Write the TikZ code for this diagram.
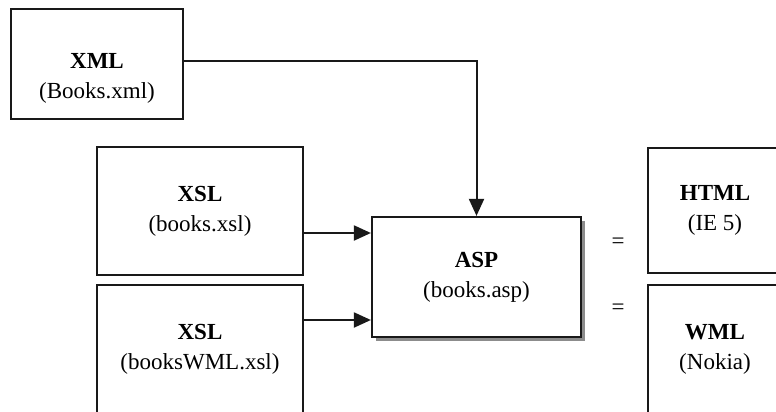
\documentclass[tikz,border=0pt]{standalone}
\usepackage{fontspec}
\setmainfont{Liberation Serif}
\usetikzlibrary{arrows.meta,shadows}
\begin{document}
\begin{tikzpicture}[x=1pt,y=-1pt,
  box/.style={draw=black!90,line width=2.2pt,fill=white,inner sep=0pt,
    align=center,font=\fontsize{23}{30}\selectfont},
  txt/.style={inner sep=0pt,align=center,font=\fontsize{23}{30}\selectfont},
  link/.style={draw=black!90,line width=2pt,
    -{Triangle[length=17pt,width=15pt]}}]
\useasboundingbox (0,0) rectangle (776,412);
\clip (0,0) rectangle (776,412);
\fill[white] (0,0) rectangle (776,412);

% source document
\node[box,minimum width=172pt,minimum height=110pt] (xml) at (97,64) {};
\node[txt] (xmltext) at (97,78) {\textbf{XML}\\(Books.xml)};

% stylesheets
\node[box,minimum width=206pt,minimum height=128pt] (xsl1) at (200,211)
  {\textbf{XSL}\\(books.xsl)};
\node[box,minimum width=206pt,minimum height=128pt] (xsl2) at (200,349)
  {\textbf{XSL}\\(booksWML.xsl)};

% server page
\node[box,minimum width=209pt,minimum height=120pt,
  drop shadow={shadow xshift=4pt,shadow yshift=-4pt,fill=black!45,opacity=1}]
  (asp) at (476.5,277) {\textbf{ASP}\\(books.asp)};

% outputs
\node[box,minimum width=134pt,minimum height=125pt] (html) at (715,210.5)
  {\textbf{HTML}\\(IE 5)};
\node[box,minimum width=134pt,minimum height=128pt] (wml) at (715,349)
  {\textbf{WML}\\(Nokia)};

\node[txt] (eq1) at (618,243) {=};
\node[txt] (eq2) at (618,309) {=};

% connectors
\draw[link] ([yshift=3pt]xml.east) -| (asp.north);
\draw[link] ([yshift=44pt]asp.west -| xsl1.east) -- ([yshift=44pt]asp.west);
\draw[link] ([yshift=-43pt]asp.west -| xsl2.east) -- ([yshift=-43pt]asp.west);
\end{tikzpicture}
\end{document}
